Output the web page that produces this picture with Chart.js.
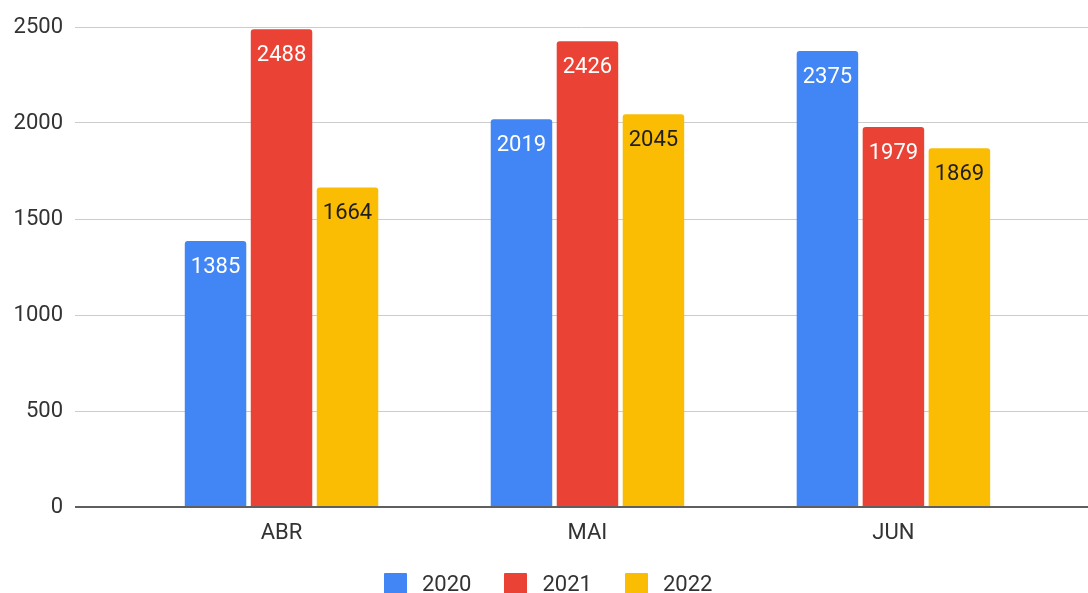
<!DOCTYPE html>
<html lang="pt">
<head>
<meta charset="UTF-8">
<title>ABR / MAI / JUN</title>
<script src="https://cdn.jsdelivr.net/npm/chart.js@4.4.1/dist/chart.umd.min.js"></script>
<style>
  * { box-sizing: border-box; margin: 0; padding: 0; }
  body { width: 1088px; height: 593px; overflow: hidden; background: #fff; font-family: Roboto, sans-serif; position: relative; }
  #chart { display: block; }
  .legend { position: absolute; left: 384px; top: 571px; display: flex; gap: 33px; font-size: 22px; color: #333; }
  .legend-item { display: flex; align-items: center; }
  .legend-box { width: 23px; height: 22px; border-radius: 1px; margin-right: 15px; }
</style>
</head>
<body>
<canvas id="chart" width="1088" height="593"></canvas>
<div class="legend" id="legend"></div>

<script>
// Data
const categories = ['ABR', 'MAI', 'JUN'];
const years = ['2020', '2021', '2022'];
const values2020 = [1385, 2019, 2375];
const values2021 = [2488, 2426, 1979];
const values2022 = [1664, 2045, 1869];
const yTicks = [0, 500, 1000, 1500, 2000, 2500];

const barColors = ['#4285F4', '#EA4335', '#FBBC04'];
const labelColors = ['#ffffff', '#ffffff', '#1f1f1f'];
const series = [values2020, values2021, values2022];

// value labels just under the top of every bar
const barLabels = {
  id: 'barLabels',
  afterDatasetsDraw(chart) {
    const ctx = chart.ctx;
    ctx.save();
    ctx.font = '22px Roboto';
    ctx.textAlign = 'center';
    ctx.textBaseline = 'middle';
    chart.data.datasets.forEach((ds, di) => {
      chart.getDatasetMeta(di).data.forEach((bar, i) => {
        ctx.fillStyle = labelColors[di];
        ctx.fillText(String(ds.data[i].y), bar.x, bar.y + 26);
      });
    });
    ctx.restore();
  }
};

new Chart(document.getElementById('chart'), {
  type: 'bar',
  data: {
    datasets: series.map((vals, di) => ({
      label: years[di],
      data: vals.map((v, i) => ({ x: i, y: v })),
      backgroundColor: barColors[di],
      borderRadius: 3,
      categoryPercentage: 0.647,
      barPercentage: 0.932
    }))
  },
  options: {
    responsive: false,
    animation: false,
    layout: { padding: { top: 27, right: 0, bottom: 0, left: 0 } },
    plugins: { legend: { display: false }, tooltip: { enabled: false } },
    scales: {
      x: {
        type: 'linear',
        offset: false,
        min: -0.675,
        max: 2.636,
        afterBuildTicks: s => { s.ticks = categories.map((c, i) => ({ value: i })); },
        afterFit: s => { s.height = 86; },
        ticks: {
          callback: v => categories[v],
          color: '#333',
          font: { family: 'Roboto', size: 22 },
          padding: 5,
          maxRotation: 0
        },
        grid: { display: false, offset: false },
        border: { display: false }
      },
      y: {
        min: 0,
        max: 2500,
        afterBuildTicks: s => { s.ticks = yTicks.map(v => ({ value: v })); },
        afterFit: s => { s.width = 75; },
        ticks: {
          callback: v => String(v),
          color: '#333',
          font: { family: 'Roboto', size: 22 },
          padding: 12
        },
        grid: {
          drawTicks: false,
          color: c => c.tick.value === 0 ? '#5f5f5f' : '#cccccc',
          lineWidth: c => c.tick.value === 0 ? 2 : 1
        },
        border: { display: false }
      }
    }
  },
  plugins: [barLabels]
});

const legendEl = document.getElementById('legend');
years.forEach((y, i) => {
  legendEl.innerHTML += `<div class="legend-item"><span class="legend-box" style="background:${barColors[i]}"></span><span>${y}</span></div>`;
});
</script>
</body>
</html>
